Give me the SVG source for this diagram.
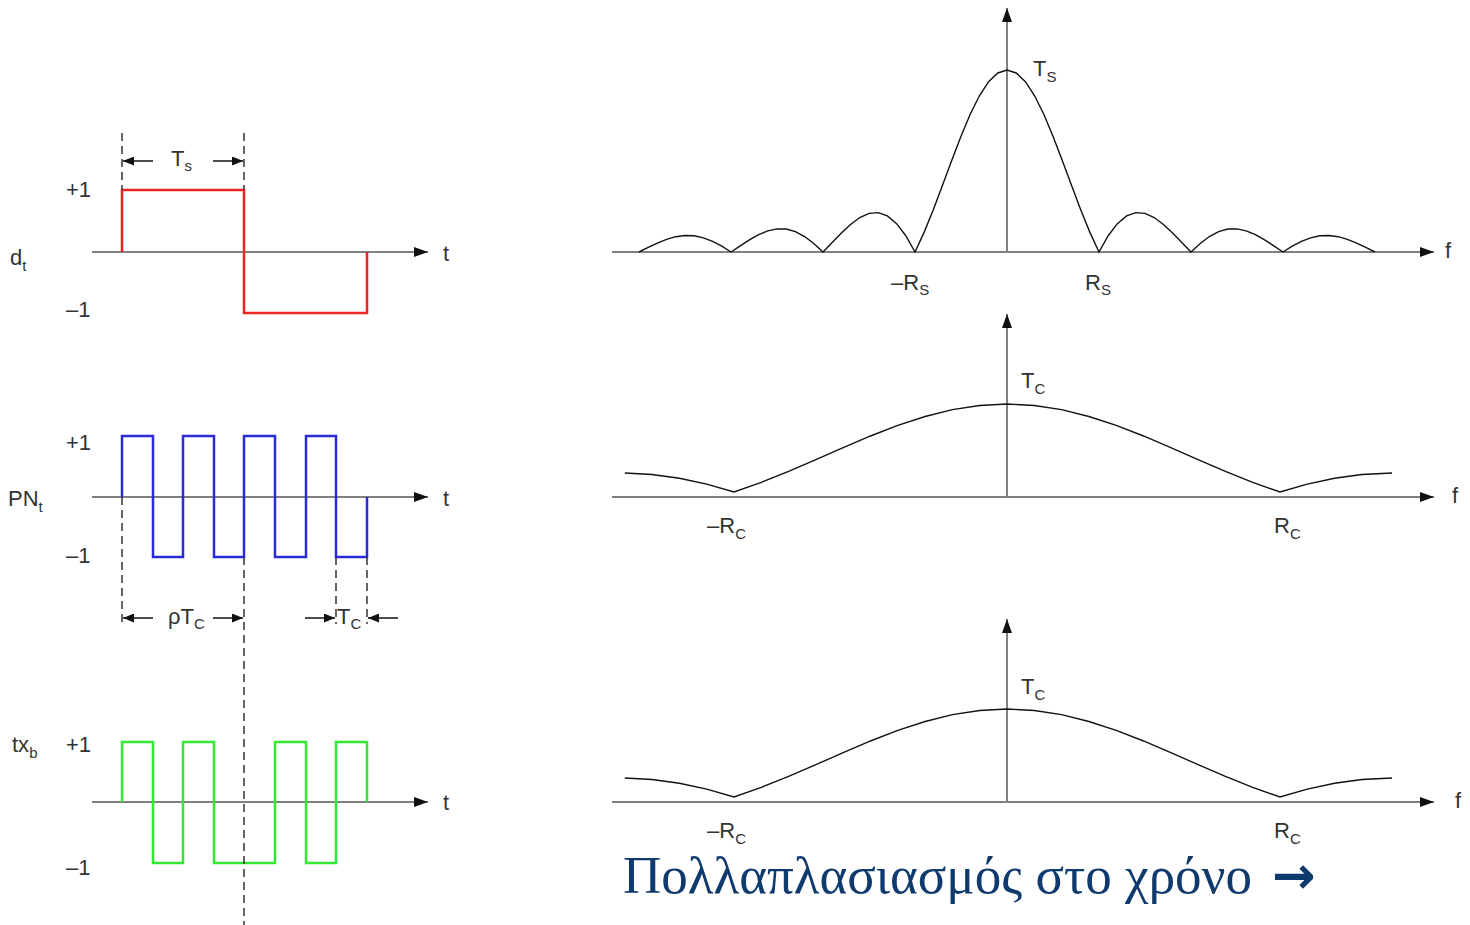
<svg xmlns="http://www.w3.org/2000/svg" width="1470" height="925" viewBox="0 0 1470 925">
<defs>
<style>
.ax{stroke:#808080;stroke-width:2;fill:none}
.dash{stroke:#333;stroke-width:1.5;stroke-dasharray:8,5;fill:none}
.dim{stroke:#111;stroke-width:1.5;fill:none}
.wave{stroke-width:2.5;fill:none;stroke-linejoin:miter}
.spec{stroke:#111;stroke-width:1.4;fill:none}
.lbl{font-family:"Liberation Sans",Arial,sans-serif;font-size:22px;fill:#333}
.sub{font-size:15px}
.cap{font-family:"Liberation Serif","Times New Roman",serif;font-size:53px;fill:#0f3a6e}
.arr{font-family:"DejaVu Sans",sans-serif;font-weight:bold;font-size:52px;fill:#0f3a6e}
</style>
<marker id="ah" markerUnits="userSpaceOnUse" markerWidth="14" markerHeight="10" refX="14" refY="5" orient="auto">
<path d="M0,0 L14,5 L0,10 z" fill="#111"/>
</marker>
<marker id="dh" markerUnits="userSpaceOnUse" markerWidth="11" markerHeight="9" refX="11" refY="4.5" orient="auto">
<path d="M0,0 L11,4.5 L0,9 z" fill="#111"/>
</marker>
</defs>

<g id="plot-dt">
<line class="ax" x1="92" y1="252" x2="428" y2="252" marker-end="url(#ah)"/>
<polyline class="wave" stroke="#ee2424" points="122,252 122,190 244,190 244,313 367,313 367,252"/>
<text class="lbl" x="66" y="197">+1</text>
<text class="lbl" x="66" y="317">–1</text>
<text class="lbl" x="10" y="265">d<tspan class="sub" dy="6">t</tspan></text>
<text class="lbl" x="443" y="261">t</text>
</g>

<g id="plot-pn">
<line class="ax" x1="92" y1="497" x2="428" y2="497" marker-end="url(#ah)"/>
<polyline class="wave" stroke="#2a2ad8" points="122,497 122,436 153,436 153,557 183,557 183,436 214,436 214,557 244,557 244,436 275,436 275,557 306,557 306,436 336,436 336,557 367,557 367,497"/>
<text class="lbl" x="66" y="450">+1</text>
<text class="lbl" x="66" y="563">–1</text>
<text class="lbl" x="8" y="506">PN<tspan class="sub" dy="6">t</tspan></text>
<text class="lbl" x="443" y="506">t</text>
</g>

<g id="plot-tx">
<line class="ax" x1="92" y1="802" x2="428" y2="802" marker-end="url(#ah)"/>
<polyline class="wave" stroke="#33e833" points="122,802 122,742 153,742 153,863 183,863 183,742 214,742 214,863 275,863 275,742 306,742 306,863 336,863 336,742 367,742 367,802"/>
<text class="lbl" x="66" y="752">+1</text>
<text class="lbl" x="66" y="875">–1</text>
<text class="lbl" x="12" y="752">tx<tspan class="sub" dy="6">b</tspan></text>
<text class="lbl" x="443" y="810">t</text>
</g>

<g id="connectors">
<line class="dash" x1="122" y1="133" x2="122" y2="190"/>
<line class="dash" x1="244" y1="133" x2="244" y2="190"/>
<line class="dim" x1="153" y1="161" x2="123" y2="161" marker-end="url(#dh)"/>
<line class="dim" x1="213" y1="161" x2="243" y2="161" marker-end="url(#dh)"/>
<text class="lbl" x="171" y="166">T<tspan class="sub" dy="5">s</tspan></text>

<line class="dash" x1="122" y1="497" x2="122" y2="624"/>
<line class="dash" x1="244" y1="557" x2="244" y2="925"/>
<line class="dash" x1="336" y1="557" x2="336" y2="624"/>
<line class="dash" x1="367" y1="557" x2="367" y2="624"/>
<line class="dim" x1="153" y1="618" x2="123" y2="618" marker-end="url(#dh)"/>
<line class="dim" x1="213" y1="618" x2="243" y2="618" marker-end="url(#dh)"/>
<text class="lbl" x="168" y="624">ρT<tspan class="sub" dy="5">C</tspan></text>
<line class="dim" x1="305" y1="618" x2="335" y2="618" marker-end="url(#dh)"/>
<line class="dim" x1="398" y1="618" x2="368" y2="618" marker-end="url(#dh)"/>
<text class="lbl" x="337" y="624">T<tspan class="sub" dy="5">C</tspan></text>
</g>

<g id="spec-top">
<line class="ax" x1="612" y1="252" x2="1434" y2="252" marker-end="url(#ah)"/>
<line class="ax" x1="1007" y1="252" x2="1007" y2="8" marker-end="url(#ah)"/>
<polyline class="spec" points="639,252 648.2,247.41 657.4,243.04 666.6,239.33 675.8,236.70 685,235.45 694.2,235.79 703.4,237.80 712.6,241.36 721.8,246.23 731,252 740.2,245.83 749.4,239.84 758.6,234.64 767.8,230.81 777,228.83 786.2,229.04 795.4,231.62 804.6,236.52 813.8,243.48 823,252 832.2,242.58 841.4,233.08 850.6,224.43 859.8,217.56 869,213.38 878.2,212.64 887.4,215.95 896.6,223.62 905.8,235.73 915,252 924.2,232.11 933.4,209.44 942.6,185.05 951.8,160.17 961,136.14 970.2,114.26 979.4,95.77 988.6,81.74 997.8,72.98 1007,70 1016.2,72.98 1025.4,81.74 1034.6,95.77 1043.8,114.26 1053,136.14 1062.2,160.17 1071.4,185.05 1080.6,209.44 1089.8,232.11 1099,252 1108.2,235.73 1117.4,223.62 1126.6,215.95 1135.8,212.64 1145,213.38 1154.2,217.56 1163.4,224.43 1172.6,233.08 1181.8,242.58 1191,252 1200.2,243.48 1209.4,236.52 1218.6,231.62 1227.8,229.04 1237,228.83 1246.2,230.81 1255.4,234.64 1264.6,239.84 1273.8,245.83 1283,252 1292.2,246.23 1301.4,241.36 1310.6,237.80 1319.8,235.79 1329,235.45 1338.2,236.70 1347.4,239.33 1356.6,243.04 1365.8,247.41 1375,252"/>
<text class="lbl" x="1033" y="76">T<tspan class="sub" dy="6">S</tspan></text>
<text class="lbl" x="891" y="290">–R<tspan class="sub" dy="5">S</tspan></text>
<text class="lbl" x="1085" y="290">R<tspan class="sub" dy="5">S</tspan></text>
<text class="lbl" x="1445" y="258">f</text>
</g>

<g id="spec-mid">
<line class="ax" x1="612" y1="497" x2="1434" y2="497" marker-end="url(#ah)"/>
<line class="ax" x1="1007" y1="497" x2="1007" y2="314" marker-end="url(#ah)"/>
<polyline class="spec" points="624.8,472.97 652.1,474.57 679.4,478.28 706.7,484.13 734,492 761.3,482.38 788.6,471.42 815.9,459.63 843.2,447.60 870.5,435.98 897.8,425.40 925.1,416.46 952.4,409.68 979.7,405.44 1007,404 1034.3,405.44 1061.6,409.68 1088.9,416.46 1116.2,425.40 1143.5,435.98 1170.8,447.60 1198.1,459.63 1225.4,471.42 1252.7,482.38 1280,492 1307.3,484.13 1334.6,478.28 1361.9,474.57 1392,472.97"/>
<text class="lbl" x="1021" y="388">T<tspan class="sub" dy="6">C</tspan></text>
<text class="lbl" x="707" y="533">–R<tspan class="sub" dy="6">C</tspan></text>
<text class="lbl" x="1274" y="533">R<tspan class="sub" dy="6">C</tspan></text>
<text class="lbl" x="1452" y="503">f</text>
</g>

<g id="spec-bot">
<line class="ax" x1="612" y1="802" x2="1434" y2="802" marker-end="url(#ah)"/>
<line class="ax" x1="1007" y1="802" x2="1007" y2="619" marker-end="url(#ah)"/>
<polyline class="spec" transform="translate(0,305)" points="624.8,472.97 652.1,474.57 679.4,478.28 706.7,484.13 734,492 761.3,482.38 788.6,471.42 815.9,459.63 843.2,447.60 870.5,435.98 897.8,425.40 925.1,416.46 952.4,409.68 979.7,405.44 1007,404 1034.3,405.44 1061.6,409.68 1088.9,416.46 1116.2,425.40 1143.5,435.98 1170.8,447.60 1198.1,459.63 1225.4,471.42 1252.7,482.38 1280,492 1307.3,484.13 1334.6,478.28 1361.9,474.57 1392,472.97"/>
<text class="lbl" x="1021" y="694">T<tspan class="sub" dy="6">C</tspan></text>
<text class="lbl" x="707" y="838">–R<tspan class="sub" dy="6">C</tspan></text>
<text class="lbl" x="1274" y="838">R<tspan class="sub" dy="6">C</tspan></text>
<text class="lbl" x="1455" y="808">f</text>
</g>

<g id="caption">
<text class="cap" x="623" y="893">Πολλαπλασιασμός στο χρόνο <tspan class="arr" x="1272">→</tspan></text>
</g>
</svg>
